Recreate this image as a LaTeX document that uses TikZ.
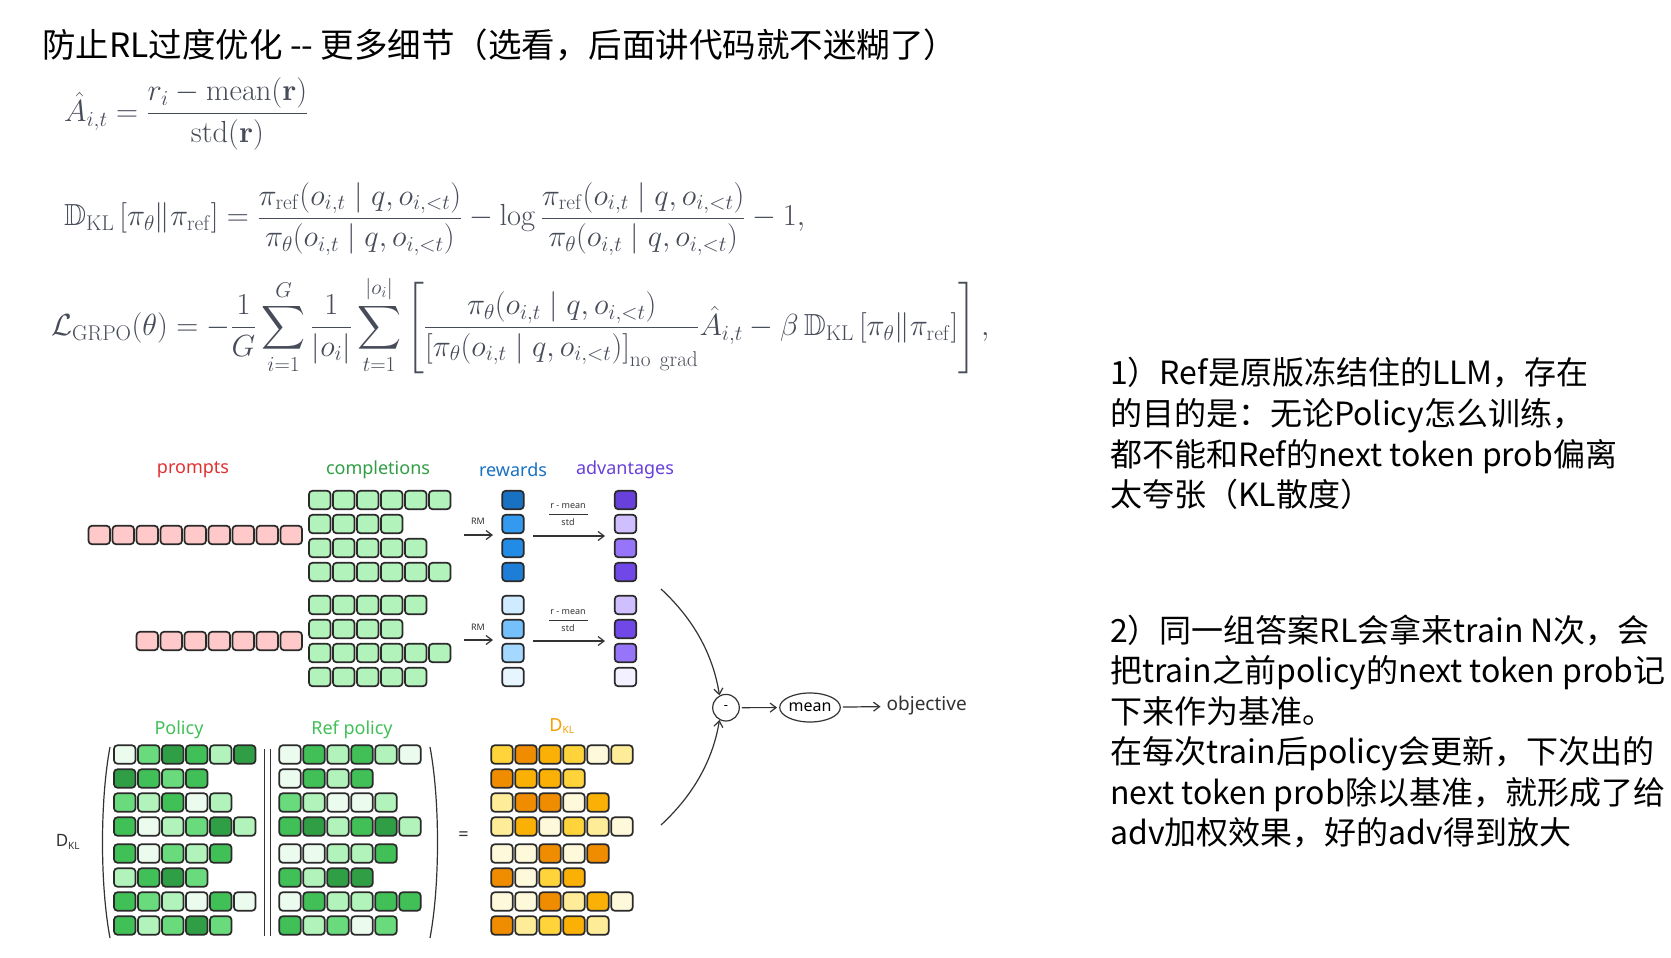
\RequirePackage{fix-cm}
\documentclass[tikz,border=0pt]{standalone}
\usepackage{amsmath,amssymb}
\usepackage[no-math]{fontspec}
\newfontfamily\cjk{Noto Sans CJK SC}
\newfontfamily\labfont{Noto Sans}
\usetikzlibrary{shapes.geometric,arrows.meta}

\definecolor{cellline}{HTML}{2A2A2A}
\definecolor{arrowc}{HTML}{333333}
\definecolor{mathc}{HTML}{474C59}
\definecolor{pinkc}{HTML}{FFC9C9}
\definecolor{compc}{HTML}{B2F2BB}
\definecolor{g0}{HTML}{EBFBEE}
\definecolor{g1}{HTML}{B2F2BB}
\definecolor{g2}{HTML}{69DB7C}
\definecolor{g3}{HTML}{40C057}
\definecolor{g4}{HTML}{2F9E44}
\definecolor{o0}{HTML}{FFF9DB}
\definecolor{o1}{HTML}{FFEC99}
\definecolor{o2}{HTML}{FFD43B}
\definecolor{o3}{HTML}{FAB005}
\definecolor{o4}{HTML}{F08C00}
\definecolor{rw1}{HTML}{1971C2}
\definecolor{rw2}{HTML}{339AF0}
\definecolor{rw3}{HTML}{228BE6}
\definecolor{rw4}{HTML}{1C7ED6}
\definecolor{rw5}{HTML}{D0EBFF}
\definecolor{rw6}{HTML}{74C0FC}
\definecolor{rw7}{HTML}{A5D8FF}
\definecolor{rw8}{HTML}{E7F5FF}
\definecolor{ad1}{HTML}{6741D9}
\definecolor{ad2}{HTML}{D0BFFF}
\definecolor{ad3}{HTML}{9775FA}
\definecolor{ad4}{HTML}{7048E8}
\definecolor{ad5}{HTML}{D0BFFF}
\definecolor{ad6}{HTML}{7048E8}
\definecolor{ad7}{HTML}{9775FA}
\definecolor{ad8}{HTML}{F3F0FF}
\definecolor{labred}{HTML}{E03131}
\definecolor{labgreen}{HTML}{2F9E44}
\definecolor{labblue}{HTML}{1971C2}
\definecolor{labpurple}{HTML}{6741D9}
\definecolor{labpol}{HTML}{40C057}
\definecolor{laborange}{HTML}{F59F00}

\newcommand{\cellrow}[6]{%
  \foreach \cv [count=\k] in {#6} {\node[cell, fill=#5\cv] (#1-#4-\k) at ({#2+24*(\k-1)},#3) {};}}

\tikzset{
  cell/.style={draw=cellline, line width=1.7pt, rounded corners=3.5pt, minimum width=21.5pt, minimum height=18.5pt, inner sep=0pt, outer sep=0pt},
  lab/.style={font=\labfont\fontsize{18}{20}\selectfont, inner sep=0pt},
  small/.style={font=\labfont\fontsize{9}{10}\selectfont, inner sep=0pt, text=arrowc},
  arr/.style={draw=arrowc, line width=1.2pt, -{Straight Barb[length=6pt,width=9pt]}},
  note/.style={font=\cjk\fontsize{32}{40}\selectfont, anchor=base west, inner sep=0pt, text=black},
  formula/.style={text=mathc, anchor=west, inner sep=0pt, font=\fontsize{30.5}{36}\selectfont},
  paren/.style={draw=arrowc, line width=1.2pt},
}

\begin{document}
\begin{tikzpicture}[x=1pt,y=-1pt]
\useasboundingbox (0,0) rectangle (1671,958);
\fill[white] (0,0) rectangle (1671,958);

% title
\node[anchor=base west, inner sep=0pt, font=\cjk\fontsize{33.5}{38}\selectfont] (title) at (42,58) {防止RL过度优化 -{}- 更多细节（选看，后面讲代码就不迷糊了）};

% formulas
\node[formula] (f1) at (64,114) {$\displaystyle \hat{A}_{i,t} = \frac{r_i - \operatorname{mean}(\mathbf{r})}{\operatorname{std}(\mathbf{r})}$};
\node[formula] (f2) at (64,219) {$\displaystyle \mathbb{D}_{\mathrm{KL}}\left[\pi_\theta\|\pi_{\mathrm{ref}}\right] = \frac{\pi_{\mathrm{ref}}(o_{i,t}\mid q,o_{i,<t})}{\pi_\theta(o_{i,t}\mid q,o_{i,<t})} - \log\frac{\pi_{\mathrm{ref}}(o_{i,t}\mid q,o_{i,<t})}{\pi_\theta(o_{i,t}\mid q,o_{i,<t})} - 1,$};
\node[formula] (f3) at (51,325) {$\displaystyle \mathcal{L}_{\mathrm{GRPO}}(\theta) = -\frac{1}{G}\sum_{i=1}^{G}\frac{1}{|o_i|}\sum_{t=1}^{|o_i|}\left[\frac{\pi_\theta(o_{i,t}\mid q,o_{i,<t})}{\left[\pi_\theta(o_{i,t}\mid q,o_{i,<t})\right]_{\mathrm{no\ grad}}}\hat{A}_{i,t} - \beta\,\mathbb{D}_{\mathrm{KL}}\left[\pi_\theta\|\pi_{\mathrm{ref}}\right]\right],$};

% column labels
\node[lab, text=labred] (lprompts) at (193,470) {prompts};
\node[lab, text=labgreen] (lcomp) at (378,470) {completions};
\node[lab, text=labblue] (lrew) at (513,470) {rewards};
\node[lab, text=labpurple] (ladv) at (625,470) {advantages};

% prompts
\foreach \i in {1,...,9} {\node[cell, fill=pinkc] (pa-\i) at ({291.25-24*(9-\i)},535) {};}
\foreach \i in {1,...,7} {\node[cell, fill=pinkc] (pb-\i) at ({291.25-24*(7-\i)},641) {};}

% completions
\foreach \n [count=\r] in {6,4,5,6} {\foreach \k in {1,...,\n} {\node[cell, fill=compc] (ca-\r-\k) at ({319.75+24*(\k-1)},{500+24*(\r-1)}) {};}}
\foreach \n [count=\r] in {5,4,6,5} {\foreach \k in {1,...,\n} {\node[cell, fill=compc] (cb-\r-\k) at ({319.75+24*(\k-1)},{605+24*(\r-1)}) {};}}

% rewards and advantages
\foreach \r in {1,...,4} {
  \node[cell, fill=rw\r] (ra-\r) at (513,{500+24*(\r-1)}) {};
  \node[cell, fill=ad\r] (aa-\r) at (625.5,{500+24*(\r-1)}) {};
}
\foreach \r [evaluate=\r as \rr using int(\r+4)] in {1,...,4} {
  \node[cell, fill=rw\rr] (rb-\r) at (513,{605+24*(\r-1)}) {};
  \node[cell, fill=ad\rr] (ab-\r) at (625.5,{605+24*(\r-1)}) {};
}

% RM arrows and normalisation
\coordinate (rmas) at (464,535); \coordinate (rmae) at (493,535);
\coordinate (rmbs) at (464,640); \coordinate (rmbe) at (493,640);
\draw[arr] (rmas) -- (rmae);
\draw[arr] (rmbs) -- (rmbe);
\node[small] (rmla) at (478,521) {RM};
\node[small] (rmlb) at (478,627) {RM};
\coordinate (nas) at (533,536); \coordinate (nae) at (605,536);
\coordinate (nbs) at (533,641); \coordinate (nbe) at (605,641);
\draw[arr] (nas) -- (nae);
\draw[arr] (nbs) -- (nbe);
\node[small] (fna) at (568,506) {r - mean};
\node[small] (fda) at (568,522) {std};
\draw[arrowc, line width=0.9pt] (549,514) -- (588,514);
\node[small] (fnb) at (568,612) {r - mean};
\node[small] (fdb) at (568,628) {std};
\draw[arrowc, line width=0.9pt] (549,620) -- (588,620);

% bottom labels
\node[lab, text=labpol] (lpol) at (179,730) {Policy};
\node[lab, text=labpol] (lref) at (352,730) {Ref policy};
\node[lab, text=laborange] (ldkl) at (562,726) {D\textsubscript{\fontsize{10}{10}\selectfont KL}};
\node[lab, text=arrowc, font=\labfont\fontsize{17}{18}\selectfont] (ldkl2) at (68,842) {D\textsubscript{\fontsize{10}{10}\selectfont KL}};
\node[lab, text=arrowc] (eq) at (463.5,836.5) {=};

% policy grid
\cellrow{po}{124.75}{754.5}{1}{g}{0,2,4,3,1,4}
\cellrow{po}{124.75}{778.5}{2}{g}{4,3,2,3}
\cellrow{po}{124.75}{802.5}{3}{g}{2,1,3,0,1}
\cellrow{po}{124.75}{826.5}{4}{g}{3,0,1,2,4,1}
\cellrow{po}{124.75}{853.5}{5}{g}{3,0,2,1,3}
\cellrow{po}{124.75}{877.5}{6}{g}{1,3,4,2}
\cellrow{po}{124.75}{901.5}{7}{g}{3,2,1,0,3,0}
\cellrow{po}{124.75}{925.5}{8}{g}{3,1,2,4,2}
% ref grid
\cellrow{rf}{290}{754.5}{1}{g}{0,3,1,3,1,0}
\cellrow{rf}{290}{778.5}{2}{g}{0,3,1,3}
\cellrow{rf}{290}{802.5}{3}{g}{2,1,0,0,1}
\cellrow{rf}{290}{826.5}{4}{g}{3,4,1,3,4,1}
\cellrow{rf}{290}{853.5}{5}{g}{0,0,1,1,3}
\cellrow{rf}{290}{877.5}{6}{g}{3,1,4,4}
\cellrow{rf}{290}{901.5}{7}{g}{0,3,1,1,3,3}
\cellrow{rf}{290}{925.5}{8}{g}{3,1,2,0,2}
% dkl grid
\cellrow{kl}{502}{754.5}{1}{o}{2,4,3,2,0,1}
\cellrow{kl}{502}{778.5}{2}{o}{4,3,3,2}
\cellrow{kl}{502}{802.5}{3}{o}{1,4,4,0,3}
\cellrow{kl}{502}{826.5}{4}{o}{1,3,0,2,1,0}
\cellrow{kl}{502}{853.5}{5}{o}{0,0,4,0,4}
\cellrow{kl}{502}{877.5}{6}{o}{4,0,2,3}
\cellrow{kl}{502}{901.5}{7}{o}{0,0,4,1,3,0}
\cellrow{kl}{502}{925.5}{8}{o}{4,1,2,3,1}

% parentheses and separators
\draw[paren] (110,747) .. controls (100,800) and (100,885) .. (110,938);
\draw[paren] (264.5,749) -- (264.5,936);
\draw[paren] (270.5,749) -- (270.5,936);
\draw[paren] (430,747) .. controls (440,800) and (440,885) .. (430,938);

% combination
\node[draw=arrowc, line width=1.2pt, circle, minimum size=26.6pt, inner sep=0pt, font=\labfont\fontsize{13}{13}\selectfont] (minus) at (726,707.7) {-};
\node[draw=arrowc, line width=1.2pt, ellipse, minimum width=55pt, minimum height=29pt, inner sep=0pt, font=\labfont\fontsize{16}{16}\selectfont] (mean) at (810,707.5) {mean};
\node[lab, text=arrowc, font=\labfont\fontsize{19}{20}\selectfont] (obj) at (926.7,706) {objective};
\coordinate (cta) at (661,589);
\coordinate (ctb) at (661,825);
\draw[arr] (cta) .. controls (688,614) and (712,648) .. (minus.118);
\draw[arr] (ctb) .. controls (688,800) and (712,766) .. (minus.242);
\draw[arr, shorten <=2pt, shorten >=2pt] (minus) -- (mean);
\draw[arr, shorten <=2pt, shorten >=6pt] (mean) -- (obj);

% notes
\node[note] (n1a) at (1110,384) {1）Ref是原版冻结住的LLM，存在};
\node[note] (n1b) at (1110,425) {的目的是：无论Policy怎么训练，};
\node[note] (n1c) at (1110,466) {都不能和Ref的next token prob偏离};
\node[note] (n1d) at (1110,506) {太夸张（KL散度）};
\node[note] (n2a) at (1110,642) {2）同一组答案RL会拿来train N次，会};
\node[note] (n2b) at (1110,682) {把train之前policy的next token prob记};
\node[note] (n2c) at (1110,723) {下来作为基准。};
\node[note] (n2d) at (1110,763) {在每次train后policy会更新，下次出的};
\node[note] (n2e) at (1110,804) {next token prob除以基准，就形成了给};
\node[note] (n2f) at (1110,844) {adv加权效果，好的adv得到放大};
\end{tikzpicture}
\end{document}
